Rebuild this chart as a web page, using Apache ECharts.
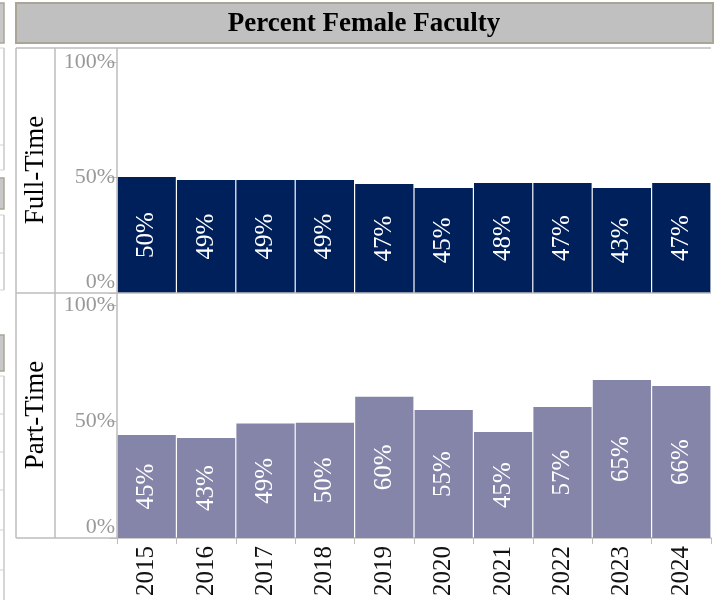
<!DOCTYPE html>
<html>
<head>
<meta charset="utf-8">
<script src="https://cdn.jsdelivr.net/npm/echarts@6/dist/echarts.min.js"></script>
<style>
html,body{margin:0;padding:0;background:#fff;}
#chart{width:719px;height:600px;}
</style>
</head>
<body>
<div id="chart"></div>
<script>
const years = ['2015','2016','2017','2018','2019','2020','2021','2022','2023','2024'];
const fullTimeValues = [50.2, 48.9, 48.9, 48.9, 47.2, 45.5, 47.6, 47.6, 45.5, 47.6];
const fullTimeLabels = [50, 49, 49, 49, 47, 45, 48, 47, 43, 47];
const partTimeValues = [44.2, 42.9, 49.1, 49.5, 60.6, 54.9, 45.5, 56.2, 67.8, 65.2];
const partTimeLabels = [45, 43, 49, 50, 60, 55, 45, 57, 65, 66];
const yTicks = [0, 50, 100];
const rowNames = ['Full-Time', 'Part-Time'];
const title = 'Percent Female Faculty';

const SERIF = '"Liberation Serif", "DejaVu Serif", serif';
const FRAME = '#bdbdbd';

const chart = echarts.init(document.getElementById('chart'), null, {renderer: 'canvas'});

function yAxisFor(grid) {
  return {
    type: 'value', gridIndex: grid, min: yTicks[0], max: yTicks[yTicks.length - 1], interval: 50,
    axisLine: {show: false},
    axisTick: {show: true, length: 8, lineStyle: {color: FRAME, width: 1}},
    splitLine: {show: false},
    axisLabel: {
      formatter: '{value}%', color: '#999', fontSize: 22, fontFamily: SERIF, margin: 2,
      verticalAlignMinLabel: 'bottom'
    }
  };
}

function line(x1, y1, x2, y2, color, w) {
  return {type: 'line', silent: true, z: 50, shape: {x1, y1, x2, y2}, style: {stroke: color || FRAME, lineWidth: w || 1.5}};
}

const graphics = [];
// partial neighbouring panel at left edge
graphics.push({type: 'rect', shape: {x: -10, y: 3, width: 14, height: 40}, style: {fill: '#c8c8c8', stroke: '#aaa597', lineWidth: 1.5}});
graphics.push({type: 'rect', shape: {x: -10, y: 178, width: 14, height: 31}, style: {fill: '#c8c8c8', stroke: '#aaa597', lineWidth: 1.5}});
graphics.push({type: 'rect', shape: {x: -10, y: 335, width: 14, height: 36}, style: {fill: '#c8c8c8', stroke: '#aaa597', lineWidth: 1.5}});
graphics.push(line(4, 48, 4, 170, '#c8c8c8', 1.5));
graphics.push(line(4, 215, 4, 290, '#c8c8c8', 1.5));
graphics.push(line(4, 376, 4, 600, '#c8c8c8', 1.5));
[48, 145, 170, 215, 253, 290, 376, 414, 452, 490, 530, 570].forEach(y => graphics.push(line(0, y, 4, y, '#d0d0d0', 1)));

// title bar
graphics.push({type: 'rect', shape: {x: 16, y: 3, width: 697, height: 40}, style: {fill: '#c0c0c0', stroke: '#aaa597', lineWidth: 2}});
graphics.push({type: 'text', x: 364, y: 24, style: {text: title, font: 'bold 27px ' + SERIF, fill: '#000', align: 'center', verticalAlign: 'middle'}});

// frame
graphics.push(line(16, 48, 711, 48));
graphics.push(line(16, 48, 16, 538));
graphics.push(line(55, 48, 55, 538));
graphics.push(line(117, 48, 117, 538));
graphics.push(line(16, 293, 711, 293));
graphics.push(line(16, 538, 117, 538));

// row labels
graphics.push({type: 'text', x: 36, y: 170, rotation: Math.PI / 2, style: {text: rowNames[0], font: '27px ' + SERIF, fill: '#000', align: 'center', verticalAlign: 'middle'}});
graphics.push({type: 'text', x: 36, y: 415, rotation: Math.PI / 2, style: {text: rowNames[1], font: '27px ' + SERIF, fill: '#000', align: 'center', verticalAlign: 'middle'}});

const labelStyle = (labels) => ({
  show: true, position: 'inside', rotate: 90, color: '#fff', fontSize: 25, fontFamily: SERIF,
  formatter: p => labels[p.dataIndex] + '%'
});

chart.setOption({
  animation: false,
  backgroundColor: '#fff',
  grid: [
    {left: 117, top: 62, width: 594, height: 231},
    {left: 117, top: 305, width: 594, height: 233}
  ],
  xAxis: [
    {type: 'category', gridIndex: 0, data: years, axisLine: {show: false}, axisTick: {show: false}, axisLabel: {show: false}},
    {type: 'category', gridIndex: 1, data: years,
     axisLine: {show: true, lineStyle: {color: FRAME, width: 1.5}},
     axisTick: {show: true, length: 6, lineStyle: {color: FRAME, width: 1}},
     axisLabel: {rotate: 90, color: '#111', fontSize: 25, fontFamily: SERIF, margin: 8}}
  ],
  yAxis: [yAxisFor(0), yAxisFor(1)],
  series: [
    {type: 'bar', xAxisIndex: 0, yAxisIndex: 0, data: fullTimeValues, barCategoryGap: '2%',
     itemStyle: {color: '#00205b'}, label: labelStyle(fullTimeLabels)},
    {type: 'bar', xAxisIndex: 1, yAxisIndex: 1, data: partTimeValues, barCategoryGap: '2%',
     itemStyle: {color: '#8585a9'}, label: labelStyle(partTimeLabels)}
  ],
  graphic: graphics
});
</script>
</body>
</html>
